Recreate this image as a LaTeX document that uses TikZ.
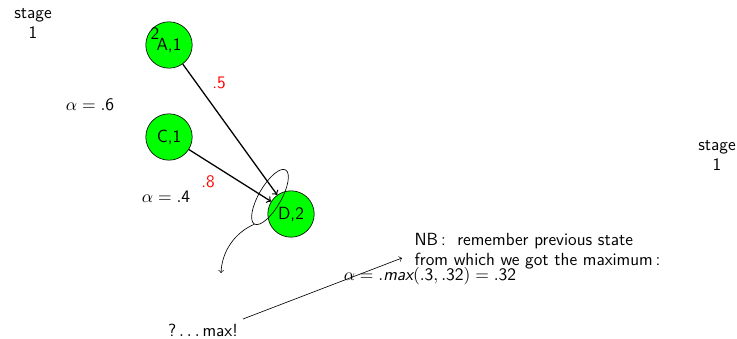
\documentclass[tikz,border=0pt]{standalone}
\usepackage{amsmath}
\usepackage{tikz}
\usetikzlibrary{arrows,shapes.geometric}
\renewcommand{\familydefault}{\sfdefault}

\tikzset{state/.style={circle,draw,fill=green,minimum size=29pt,inner sep=0pt},
  prob/.style={red}}

\begin{document}
\begin{tikzpicture}[x=0.625pt,y=-0.625pt,every node/.style={font=\fontsize{11}{12.5}\selectfont}]
    \useasboundingbox (0,0) rectangle (737,338);
    \node[align=center] (st1) at (33,23) {stage\\1};
    \node[align=center] (st2) at (717,155) {stage\\1};
    \node[state] (A1) at (169,45) {A,1};
    \node (two) at (155,34) {2};
    \node[state] (C1) at (169,137) {C,1};
    \node[state] (D2) at (291,214) {D,2};
    \node (a6) at (90,105) {$\alpha=\mathsf{.6}$};
    \node (a4) at (166,197) {$\alpha=\mathsf{.4}$};
    \node[prob] (p5) at (219,83) {.5};
    \node[prob] (p8) at (208,182) {.8};
    \node[ellipse,draw,minimum width=39pt,minimum height=14pt,inner sep=0pt,rotate=60] (sel) at (270,197) {};
    \coordinate (back) at (221,273);
    \node (maxq) at (203,330) {?\,$\ldots$\,max!};
    \node[align=left,anchor=west] (nb) at (409,251) {NB\,:\ \ remember previous state\\from which we got the maximum\,:};
    \coordinate (nbin) at (402,258);
    \node (amax) at (430,276) {$\alpha=\mathsf{.}\textsf{\itshape max}\mathsf{(.3,.32)}=\mathsf{.32}$};
    \path[->,thick]
      (A1) edge (D2)
      (C1) edge (D2);
    \draw[->] (sel.west) .. controls (236,232) and (222,250) .. (back);
    \draw[->] (243,319) -- (nbin);
  \end{tikzpicture}
\end{document}
